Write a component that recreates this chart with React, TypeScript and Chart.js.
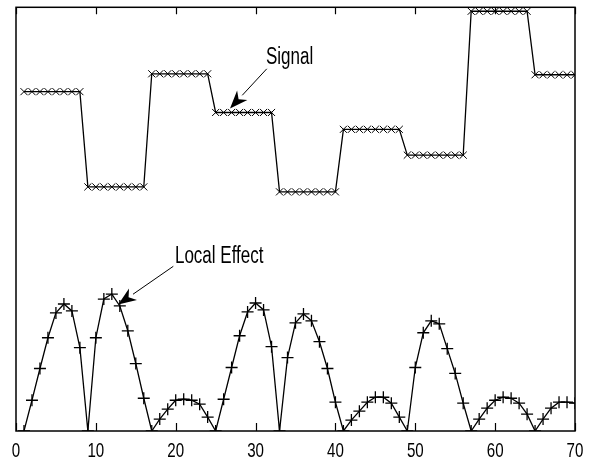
import React, { useEffect, useRef } from "react";
import { Chart, registerables } from "chart.js";

Chart.register(...registerables);

// sample index (1..70)
const sampleIndex: number[] = Array.from({ length: 70 }, (_, i) => i + 1);

// Signal: piecewise constant levels
const signalValues: number[] = [
  3.42, 3.42, 3.42, 3.42, 3.42, 3.42, 3.42, 3.42,
  2.46, 2.46, 2.46, 2.46, 2.46, 2.46, 2.46, 2.46,
  3.6, 3.6, 3.6, 3.6, 3.6, 3.6, 3.6, 3.6,
  3.21, 3.21, 3.21, 3.21, 3.21, 3.21, 3.21, 3.21,
  2.41, 2.41, 2.41, 2.41, 2.41, 2.41, 2.41, 2.41,
  3.04, 3.04, 3.04, 3.04, 3.04, 3.04, 3.04, 3.04,
  2.78, 2.78, 2.78, 2.78, 2.78, 2.78, 2.78, 2.78,
  4.23, 4.23, 4.23, 4.23, 4.23, 4.23, 4.23, 4.23,
  3.59, 3.59, 3.59, 3.59, 3.59, 3.59,
];

// Local effect values
const localEffectValues: number[] = [
  0, 0.31, 0.63, 0.94, 1.19, 1.28, 1.21, 0.84,
  0, 0.94, 1.33, 1.38, 1.26, 1.01, 0.68, 0.33,
  0, 0.12, 0.22, 0.31, 0.32, 0.31, 0.27, 0.14,
  0, 0.32, 0.64, 0.96, 1.2, 1.29, 1.22, 0.85,
  0, 0.74, 1.09, 1.18, 1.11, 0.9, 0.63, 0.29,
  0, 0.11, 0.2, 0.29, 0.34, 0.34, 0.28, 0.14,
  0, 0.64, 0.99, 1.11, 1.08, 0.83, 0.58, 0.28,
  0, 0.12, 0.23, 0.31, 0.34, 0.33, 0.28, 0.17,
  0, 0.12, 0.23, 0.29, 0.29, 0.28,
];

const xTickValues: number[] = [0, 10, 20, 30, 40, 50, 60, 70];
const xTickLabels: string[] = ["0", "10", "20", "30", "40", "50", "60", "70"];
const xMin = 0;
const xMax = 70;
const yMin = 0;
const yMax = 4.27;

// Annotation texts and arrow positions (data coordinates)
const annotationTexts: string[] = ["Signal", "Local Effect"];
const annotationTextX: number[] = [31.3, 19.9];
const annotationTextY: number[] = [3.695, 1.695];
const arrowTailX: number[] = [31.4, 19.7];
const arrowTailY: number[] = [3.65, 1.66];
const arrowTipX: number[] = [26.8, 12.8];
const arrowTipY: number[] = [3.25, 1.275];

const FONT_FAMILY = "'Liberation Sans', Arial, sans-serif";

const framePlugin = {
  id: "framePlugin",
  afterDatasetsDraw(chart: any) {
    const { ctx, chartArea, scales } = chart;
    const xs = scales.x;
    const ys = scales.y;
    ctx.save();
    ctx.strokeStyle = "#000";
    ctx.lineWidth = 1.5;
    ctx.strokeRect(chartArea.left, chartArea.top, chartArea.right - chartArea.left, chartArea.bottom - chartArea.top);
    // inward tick marks (bottom & top) and narrow tick labels
    ctx.lineWidth = 1.2;
    xTickValues.forEach((v, i) => {
      const px = Math.round(xs.getPixelForValue(v)) + 0.5;
      ctx.beginPath();
      ctx.moveTo(px, chartArea.bottom);
      ctx.lineTo(px, chartArea.bottom - 8);
      ctx.moveTo(px, chartArea.top);
      ctx.lineTo(px, chartArea.top + 7);
      ctx.stroke();
      ctx.save();
      ctx.translate(xs.getPixelForValue(v), chartArea.bottom + 26);
      ctx.scale(0.72, 1);
      ctx.font = "21px " + FONT_FAMILY;
      ctx.fillStyle = "#000";
      ctx.textAlign = "center";
      ctx.textBaseline = "alphabetic";
      ctx.fillText(xTickLabels[i], 0, 0);
      ctx.restore();
    });
    // annotations
    ctx.fillStyle = "#000";
    ctx.strokeStyle = "#000";
    annotationTexts.forEach((t, i) => {
      const tx = xs.getPixelForValue(annotationTextX[i]);
      const ty = ys.getPixelForValue(annotationTextY[i]);
      ctx.save();
      ctx.translate(tx, ty);
      ctx.scale(0.74, 1);
      ctx.font = "23px " + FONT_FAMILY;
      ctx.textBaseline = "alphabetic";
      ctx.textAlign = "left";
      ctx.fillText(t, 0, 0);
      ctx.restore();

      const x0 = xs.getPixelForValue(arrowTailX[i]);
      const y0 = ys.getPixelForValue(arrowTailY[i]);
      const x1 = xs.getPixelForValue(arrowTipX[i]);
      const y1 = ys.getPixelForValue(arrowTipY[i]);
      const ang = Math.atan2(y1 - y0, x1 - x0);
      const headLen = 18;
      const headW = 7;
      const bx = x1 - headLen * Math.cos(ang);
      const by = y1 - headLen * Math.sin(ang);
      ctx.lineWidth = 1;
      ctx.beginPath();
      ctx.moveTo(x0, y0);
      ctx.lineTo(bx, by);
      ctx.stroke();
      ctx.beginPath();
      ctx.moveTo(x1, y1);
      ctx.lineTo(bx + headW * Math.sin(ang), by - headW * Math.cos(ang));
      ctx.lineTo(x1 - (headLen * 0.7) * Math.cos(ang), y1 - (headLen * 0.7) * Math.sin(ang));
      ctx.lineTo(bx - headW * Math.sin(ang), by + headW * Math.cos(ang));
      ctx.closePath();
      ctx.fill();
    });
    ctx.restore();
  },
};

export default function App() {
  const canvasRef = useRef<HTMLCanvasElement | null>(null);

  useEffect(() => {
    if (!canvasRef.current) return;
    const chart = new Chart(canvasRef.current, {
      type: "line",
      data: {
        datasets: [
          {
            label: "Signal",
            data: sampleIndex.map((x, i) => ({ x, y: signalValues[i] })),
            borderColor: "#000",
            backgroundColor: "#000",
            borderWidth: 1.3,
            pointStyle: "crossRot",
            pointRadius: 5,
            pointBorderWidth: 1,
            pointBorderColor: "#000",
            tension: 0,
            fill: false,
          },
          {
            label: "Local Effect",
            data: sampleIndex.map((x, i) => ({ x, y: localEffectValues[i] })),
            borderColor: "#000",
            backgroundColor: "#000",
            borderWidth: 1.3,
            pointStyle: "cross",
            pointRadius: 6,
            pointBorderWidth: 1.3,
            pointBorderColor: "#000",
            tension: 0,
            fill: false,
          },
        ],
      },
      options: {
        animation: false,
        responsive: false,
        maintainAspectRatio: false,
        layout: { padding: { left: 16, right: 22, top: 4, bottom: 0 } },
        plugins: {
          legend: { display: false },
          tooltip: { enabled: false },
        },
        scales: {
          x: {
            type: "linear",
            min: xMin,
            max: xMax,
            afterBuildTicks: (scale: any) => {
              scale.ticks = xTickValues.map((v) => ({ value: v }));
            },
            afterFit: (scale: any) => {
              scale.height = 30;
            },
            ticks: { display: false },
            grid: { display: false, drawTicks: false },
            border: { display: false },
          },
          y: {
            type: "linear",
            min: yMin,
            max: yMax,
            display: false,
          },
        },
      },
      plugins: [framePlugin],
    } as any);
    return () => chart.destroy();
  }, []);

  return (
    <div style={{ position: "absolute", left: 0, top: 0, width: 597, height: 461, background: "#fff" }}>
      <canvas ref={canvasRef} width={597} height={461} />
    </div>
  );
}
